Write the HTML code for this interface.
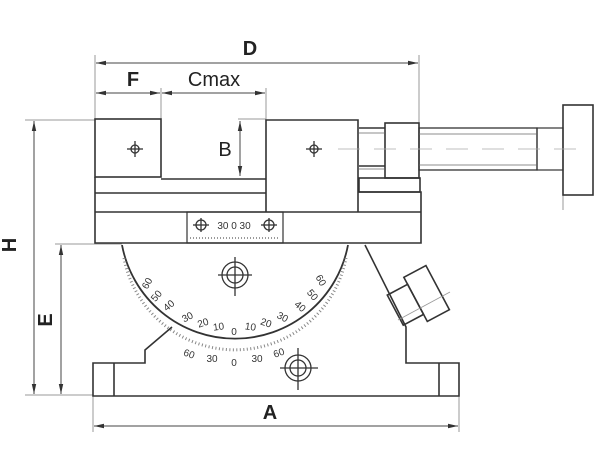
<!DOCTYPE html>
<html><head><style>body{margin:0;background:#fff}svg{display:block}</style></head><body>
<svg width="612" height="449" viewBox="0 0 612 449" xmlns="http://www.w3.org/2000/svg" font-family="Liberation Sans, sans-serif">
<defs>
<marker id="a" markerWidth="10" markerHeight="6" refX="10" refY="3" orient="auto-start-reverse"><path d="M0,0.8L10,3L0,5.2z" fill="#333"/></marker>
</defs>
<g stroke="#999" stroke-width="1" fill="none">
<line x1="95" y1="55" x2="95" y2="120"/><line x1="419" y1="55" x2="419" y2="123"/>
<line x1="161" y1="88" x2="161" y2="119"/><line x1="266" y1="88" x2="266" y2="120"/>
<line x1="25" y1="120" x2="95" y2="120"/><line x1="25" y1="395" x2="93" y2="395"/>
<line x1="55" y1="244" x2="122" y2="244"/><line x1="238" y1="119" x2="266" y2="119"/>
<line x1="93" y1="396" x2="93" y2="432"/><line x1="459" y1="396" x2="459" y2="432"/>
<line x1="563" y1="195" x2="563" y2="210"/>
</g>
<g stroke="#444" stroke-width="1" fill="none" marker-start="url(#a)" marker-end="url(#a)">
<line x1="96" y1="63" x2="418" y2="63"/>
<line x1="96" y1="93" x2="160" y2="93"/><line x1="162" y1="93" x2="265" y2="93"/>
<line x1="240" y1="121" x2="240" y2="176"/>
<line x1="34" y1="121" x2="34" y2="394"/><line x1="61" y1="245" x2="61" y2="394"/>
<line x1="94" y1="426" x2="458" y2="426"/>
</g>
<g font-size="20" fill="#222" text-anchor="middle">
<text x="250" y="55" font-weight="bold">D</text>
<text x="133" y="86" font-weight="bold">F</text>
<text x="214" y="86">Cmax</text>
<text x="225" y="156">B</text>
<text x="270" y="419" font-weight="bold">A</text>
<text transform="translate(16,245) rotate(-90)" font-weight="bold">H</text>
<text transform="translate(52,320) rotate(-90)" font-weight="bold">E</text>
</g>
<g stroke="#333" stroke-width="1.6" fill="none">
<!-- fixed jaw -->
<rect x="95" y="119" width="66" height="58"/>
<polyline points="95,177 95,243 421,243 421,192 359,192"/>
<line x1="95" y1="193" x2="266" y2="193"/>
<polyline points="161,179 266,179"/>
<line x1="95" y1="212" x2="421" y2="212"/>
<!-- moving jaw -->
<polyline points="266,212 266,120 358,120 358,212"/>
<rect x="359" y="178" width="61" height="14"/>
<line x1="359" y1="128" x2="385" y2="128"/><line x1="359" y1="166" x2="385" y2="166"/>
<rect x="385" y="123" width="34" height="55"/>
<rect x="419" y="128" width="118" height="42" stroke-width="1.3"/>
<rect x="537" y="128" width="26" height="42" stroke-width="1.2"/>
<rect x="563" y="105" width="30" height="90"/>
<rect x="187" y="212" width="96" height="31" stroke-width="1.2"/>
<!-- base -->
<path d="M122,245 A115,115 0 0 0 348,245" stroke-width="1.8"/>
<polyline points="172,327 145,350 145,363 93,363 93,396 459,396 459,363 406,363 406,327 365,245"/>
<line x1="114" y1="363" x2="114" y2="396"/><line x1="439" y1="363" x2="439" y2="396"/>
<g transform="rotate(-28 420 297)">
<rect x="392" y="280" width="23" height="34"/>
<rect x="415" y="272" width="25" height="50"/>
</g>
</g>
<g stroke="#666" stroke-width="0.8" fill="none">
<line x1="359" y1="133" x2="385" y2="133"/><line x1="359" y1="169" x2="385" y2="169"/>
<line x1="419" y1="134" x2="537" y2="134"/><line x1="419" y1="165" x2="537" y2="165"/>
<line x1="338" y1="149" x2="580" y2="149" stroke-dasharray="22,14" stroke="#aaa"/>
<line x1="398" y1="320" x2="450" y2="292" stroke="#999"/>
<path d="M124,258 A113,113 0 0 0 346,258" stroke-dasharray="1,2.5" stroke-width="3" stroke="#888"/>
</g>
<g stroke="#333" stroke-width="1.3" fill="none">
<circle cx="235" cy="275" r="13"/><circle cx="235" cy="275" r="8"/>
<line x1="218" y1="275" x2="252" y2="275"/><line x1="235" y1="257" x2="235" y2="296"/>
<circle cx="298" cy="368" r="13"/><circle cx="298" cy="368" r="8"/>
<line x1="280" y1="368" x2="318" y2="368"/><line x1="298" y1="348" x2="298" y2="390"/>
<circle cx="135" cy="149" r="4"/><line x1="127" y1="149" x2="143" y2="149"/><line x1="135" y1="141" x2="135" y2="157"/>
<circle cx="314" cy="149" r="4"/><line x1="306" y1="149" x2="322" y2="149"/><line x1="314" y1="141" x2="314" y2="157"/>
<circle cx="201" cy="225" r="5"/><line x1="193" y1="225" x2="209" y2="225"/><line x1="201" y1="218" x2="201" y2="232"/>
<circle cx="269" cy="225" r="5"/><line x1="261" y1="225" x2="277" y2="225"/><line x1="269" y1="218" x2="269" y2="232"/>
<line x1="190" y1="238" x2="280" y2="238" stroke-dasharray="1,2" stroke-width="1"/>
</g>
<g font-size="10" fill="#333" text-anchor="middle">
<text x="234" y="229">30  0  30</text>
<text x="234" y="335">0</text>
<text x="219" y="330" transform="rotate(-8 219 330)">10</text>
<text x="250" y="330" transform="rotate(8 250 330)">10</text>
<text x="204" y="326" transform="rotate(-18 204 326)">20</text>
<text x="265" y="326" transform="rotate(18 265 326)">20</text>
<text x="189" y="320" transform="rotate(-28 189 320)">30</text>
<text x="281" y="320" transform="rotate(28 281 320)">30</text>
<text x="171" y="308" transform="rotate(-40 171 308)">40</text>
<text x="298" y="309" transform="rotate(40 298 309)">40</text>
<text x="159" y="298" transform="rotate(-50 159 298)">50</text>
<text x="310" y="297" transform="rotate(50 310 297)">50</text>
<text x="150" y="285" transform="rotate(-60 150 285)">60</text>
<text x="318" y="282" transform="rotate(60 318 282)">60</text>
<text x="188" y="357" transform="rotate(20 188 357)">60</text>
<text x="212" y="362">30</text>
<text x="234" y="366">0</text>
<text x="257" y="362">30</text>
<text x="280" y="356" transform="rotate(-20 280 356)">60</text>
</g>
</svg>
</body></html>
